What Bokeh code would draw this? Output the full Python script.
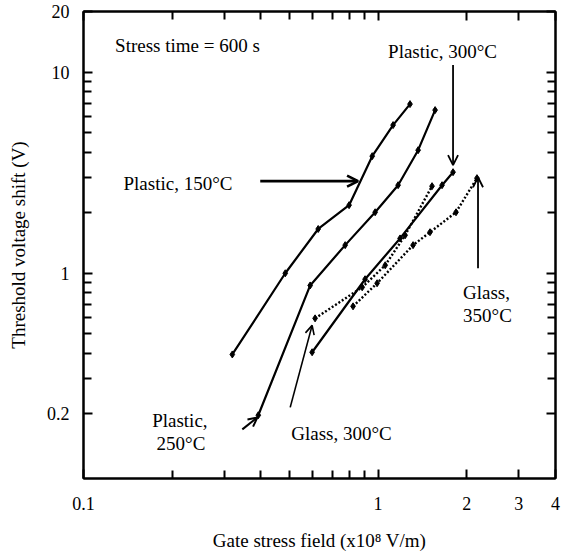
from bokeh.plotting import figure
from bokeh.models import (LogAxis, FixedTicker, Label, Arrow, OpenHead,
                          ColumnDataSource, Range1d, CustomJSTickFormatter)
from bokeh.embed import file_html
from bokeh.resources import INLINE

# ---------------- data ----------------
p150_x = [0.320, 0.484, 0.626, 0.797, 0.955, 1.124, 1.283]
p150_y = [0.395, 1.00, 1.66, 2.18, 3.82, 5.45, 6.93]

p250_x = [0.392, 0.588, 0.773, 0.977, 1.169, 1.367, 1.561]
p250_y = [0.197, 0.87, 1.38, 2.01, 2.74, 4.09, 6.47]

p300_x = [0.597, 0.903, 1.187, 1.648, 1.796]
p300_y = [0.405, 0.934, 1.49, 2.74, 3.18]

g300_x = [0.611, 0.883, 1.057, 1.235, 1.524]
g300_y = [0.597, 0.852, 1.096, 1.545, 2.71]

g350_x = [0.822, 0.992, 1.314, 1.500, 1.838, 2.165]
g350_y = [0.685, 0.892, 1.38, 1.60, 2.01, 2.97]

x_major_ticks = [0.1, 1, 2, 3, 4]
x_tick_labels = ["0.1", "1", "2", "3", "4"]
x_minor_ticks = [0.2, 0.3, 0.4, 0.5, 0.6, 0.7, 0.8, 0.9]

y_major_ticks = [0.2, 1, 10, 20]
y_tick_labels = ["0.2", "1", "10", "20"]
y_minor_ticks = [0.3, 0.4, 0.5, 0.6, 0.7, 0.8, 0.9, 2, 3, 4, 5, 6, 7, 8, 9]

x_title = "Gate stress field (x10\u2078 V/m)"
y_title = "Threshold voltage shift (V)"

FONT = "Liberation Serif"

# ---------------- figure ----------------
p = figure(width=566, height=553, x_axis_type="log", y_axis_type="log",
           x_range=Range1d(0.1, 4), y_range=Range1d(0.0955, 20),
           output_backend="svg", toolbar_location=None,
           min_border_left=83, min_border_right=11, min_border_top=11,
           min_border_bottom=75)
p.grid.visible = False
p.outline_line_color = "black"
p.outline_line_width = 2
p.background_fill_color = "white"
p.border_fill_color = "white"

lookup = """
const i = tv.findIndex(t => Math.abs(t - tick) <= 1e-9 * Math.max(1, Math.abs(t)));
return i >= 0 ? lb[i] : "";
"""

def style_axis(ax, major, minor, labels, show):
    ax.ticker = FixedTicker(ticks=major, minor_ticks=minor)
    ax.axis_line_color = "black"
    ax.axis_line_width = 2
    ax.major_tick_in = 9
    ax.major_tick_out = 0
    ax.minor_tick_in = 8
    ax.minor_tick_out = 0
    ax.major_tick_line_width = 2
    ax.minor_tick_line_width = 2
    ax.major_tick_line_color = "black"
    ax.minor_tick_line_color = "black"
    if show:
        ax.formatter = CustomJSTickFormatter(args=dict(tv=major, lb=labels), code=lookup)
        ax.major_label_text_font = FONT
        ax.major_label_text_font_size = "18px"
        ax.major_label_text_color = "black"
        ax.axis_label_text_font = FONT
        ax.axis_label_text_font_size = "19px"
        ax.axis_label_text_font_style = "normal"
        ax.axis_label_text_color = "black"
    else:
        ax.formatter = CustomJSTickFormatter(code='return ""')
        ax.major_label_standoff = 0

xa = p.xaxis[0]
ya = p.yaxis[0]
style_axis(xa, x_major_ticks, x_minor_ticks, x_tick_labels, True)
style_axis(ya, y_major_ticks, y_minor_ticks, y_tick_labels, True)
xa.axis_label = x_title
ya.axis_label = y_title
xa.major_label_standoff = 18
ya.major_label_standoff = 14
xa.axis_label_standoff = 17
ya.axis_label_standoff = 15

top = LogAxis()
style_axis(top, x_major_ticks, x_minor_ticks, x_tick_labels, False)
p.add_layout(top, "above")
right = LogAxis()
style_axis(right, y_major_ticks, y_minor_ticks, y_tick_labels, False)
p.add_layout(right, "right")

# ---------------- series ----------------
solid = [(p150_x, p150_y), (p250_x, p250_y), (p300_x, p300_y)]
dotted = [(g300_x, g300_y), (g350_x, g350_y)]
for xs, ys in solid:
    src = ColumnDataSource(dict(x=xs, y=ys))
    p.line("x", "y", source=src, line_color="black", line_width=2.2)
    p.scatter("x", "y", source=src, marker="diamond", size=7, color="black")
for xs, ys in dotted:
    src = ColumnDataSource(dict(x=xs, y=ys))
    p.line("x", "y", source=src, line_color="black", line_width=2.4, line_dash="2 2")
    p.scatter("x", "y", source=src, marker="diamond", size=7, color="black")

# ---------------- annotations ----------------
def label(x, y, text):
    p.add_layout(Label(x=x, y=y, text=text, text_font=FONT, text_font_size="19px",
                       text_color="black", text_baseline="middle", text_align="left"))

label(0.128, 13.5, "Stress time = 600 s")
label(1.081, 12.7, "Plastic, 300\u00b0C")
label(0.1367, 2.80, "Plastic, 150\u00b0C")
label(1.942, 0.804, "Glass,")
label(1.942, 0.618, "350\u00b0C")
label(0.507, 0.160, "Glass, 300\u00b0C")
label(0.171, 0.186, "Plastic,")
label(0.177, 0.1426, "250\u00b0C")

def arrow(x0, y0, x1, y1, w=2.0, size=10):
    p.add_layout(Arrow(end=OpenHead(size=size, line_width=w, line_color="black"),
                       x_start=x0, y_start=y0, x_end=x1, y_end=y1,
                       line_width=w, line_color="black"))

arrow(0.398, 2.87, 0.855, 2.87, 2.6, 11)
arrow(1.796, 10.83, 1.796, 3.45, 1.8, 10)
arrow(2.183, 1.059, 2.183, 3.0, 1.8, 10)
arrow(0.503, 0.2155, 0.597, 0.551, 1.6, 9)
arrow(0.346, 0.1675, 0.389, 0.192, 2.0, 9)

open("out.html", "w").write(file_html(p, INLINE))
